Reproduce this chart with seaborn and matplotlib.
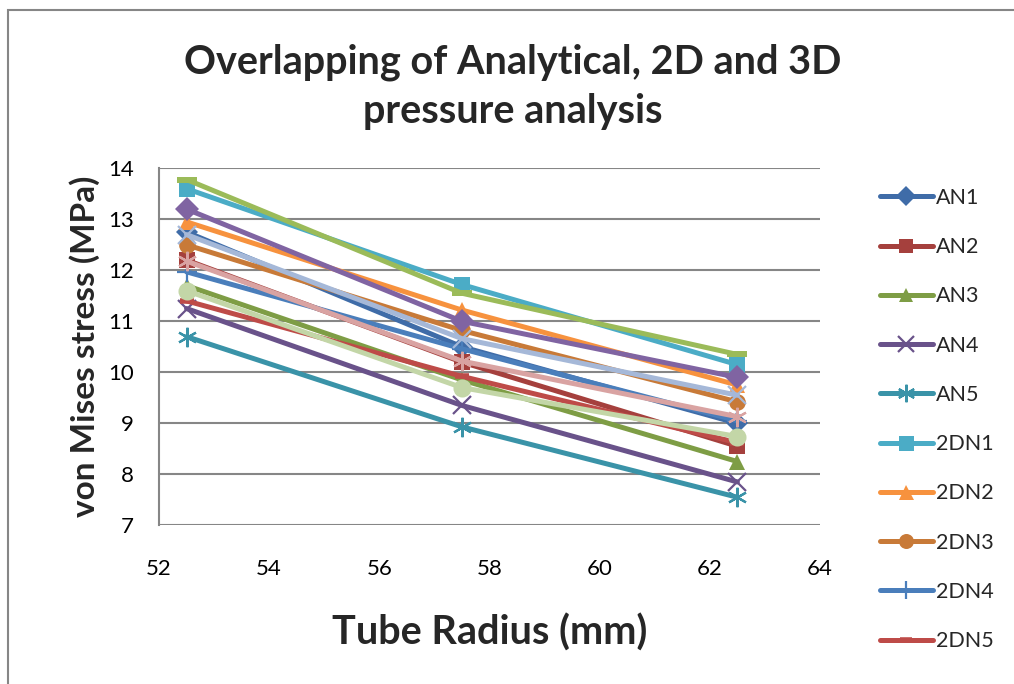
import matplotlib
matplotlib.use("Agg")
import matplotlib.pyplot as plt
import seaborn as sns
import pandas as pd
from matplotlib.lines import Line2D
from matplotlib.patches import Rectangle

# ---- data ----
radius = [52.5, 57.5, 62.5]
series_names = ["AN1", "AN2", "AN3", "AN4", "AN5",
                "2DN1", "2DN2", "2DN3", "2DN4", "2DN5",
                "3DN1", "3DN2", "3DN3", "3DN4", "3DN5"]
AN1 = [12.75, 10.5, 9.0]
AN2 = [12.2, 10.2, 8.55]
AN3 = [11.7, 9.85, 8.25]
AN4 = [11.25, 9.35, 7.85]
AN5 = [10.7, 8.93, 7.55]
DN2_1 = [13.6, 11.72, 10.15]
DN2_2 = [12.95, 11.22, 9.75]
DN2_3 = [12.5, 10.82, 9.42]
DN2_4 = [11.97, 10.46, 9.05]
DN2_5 = [11.4, 9.92, 8.62]
DN3_1 = [13.78, 11.55, 10.35]
DN3_2 = [13.2, 11.0, 9.9]
DN3_3 = [12.7, 10.66, 9.55]
DN3_4 = [12.18, 10.22, 9.13]
DN3_5 = [11.6, 9.7, 8.74]
values = [AN1, AN2, AN3, AN4, AN5, DN2_1, DN2_2, DN2_3, DN2_4, DN2_5,
          DN3_1, DN3_2, DN3_3, DN3_4, DN3_5]

colors = ["#3F6CA8", "#A5403D", "#7E9D45", "#69528A", "#3A93A8",
          "#4BACC6", "#F7923E", "#C87A38", "#4A7EBB", "#BE4B48",
          "#9BBB59", "#8064A2", "#A5B8D8", "#D9A3A2", "#C3D6A7"]
bar = [(-1, -0.3), (1, -0.3), (1, 0.3), (-1, 0.3), (-1, -0.3)]
markers = ["D", "s", "^", "x", (6, 2, 0), "s", "^", "o", "+", "_",
           bar, "D", "x", (6, 2, 0), "o"]
msizes = [11, 11, 11, 13, 14, 12, 12, 12, 14, 10, 15, 12, 13, 14, 13]

df = pd.DataFrame({
    "radius": radius * len(series_names),
    "stress": [v for vals in values for v in vals],
    "series": [n for n in series_names for _ in radius],
})

sns.set_theme(style="white")
plt.rcParams["font.family"] = ["Lato", "DejaVu Sans"]

fig = plt.figure(figsize=(10.14, 6.84), dpi=100)
ax = fig.add_axes([159/1014, 1-525.3/684, (820-159)/1014, (525.3-168.3)/684])

handles = []
for i, name in enumerate(series_names):
    sub = df[df["series"] == name]
    m = markers[i]
    thin = m in ("x", "+") or isinstance(m, tuple)
    mew = 1.6 if thin else (4 if m == "_" else 0)
    sns.lineplot(data=sub, x="radius", y="stress", ax=ax, color=colors[i],
                 linewidth=3.6, marker=m, markersize=msizes[i],
                 markeredgewidth=mew, markeredgecolor=colors[i],
                 markerfacecolor=colors[i], legend=False, zorder=3 + i)
    handles.append(Line2D([0], [0], color=colors[i], linewidth=3.6, marker=m,
                          markersize=msizes[i] * 0.9, markeredgewidth=mew,
                          markeredgecolor=colors[i], markerfacecolor=colors[i],
                          label=name))

ax.set_xlim(52, 64)
ax.set_ylim(7, 14)
ax.set_xticks([52, 54, 56, 58, 60, 62, 64])
ax.set_yticks([7, 8, 9, 10, 11, 12, 13, 14])
ax.grid(axis="y", color="#868686", linewidth=1.5)
ax.grid(axis="x", visible=False)
ax.set_axisbelow(True)
for s in ["top", "right", "bottom"]:
    ax.spines[s].set_visible(False)
ax.spines["left"].set_color("#868686")
ax.spines["left"].set_linewidth(1.5)
ax.tick_params(axis="both", labelsize=16, length=0, colors="black")
ax.tick_params(axis="y", pad=18)
ax.tick_params(axis="x", pad=24)

ax.set_xlabel("Tube Radius (mm)", fontsize=28.5, fontweight="bold", labelpad=25)
ax.set_ylabel("von Mises stress (MPa)", fontsize=24, fontweight="bold", labelpad=6)

fig.text(513/1014, 1-62/684, "Overlapping of Analytical, 2D and 3D",
         ha="center", va="center", fontsize=28.5, fontweight="bold")
fig.text(513/1014, 1-111/684, "pressure analysis",
         ha="center", va="center", fontsize=28.5, fontweight="bold")

fig.legend(handles=handles[:10], loc="upper left",
           bbox_to_anchor=(869/1014, 1-177/684), frameon=False,
           fontsize=15.5, handlelength=2.45, handletextpad=0.15,
           labelspacing=1.36, borderpad=0)

fig.patches.append(Rectangle((8/1014, -0.1), 1.2, 1.1 - 10/684,
                             transform=fig.transFigure, fill=False,
                             edgecolor="#868686", linewidth=1.5))

fig.savefig("out.png", dpi=100)
